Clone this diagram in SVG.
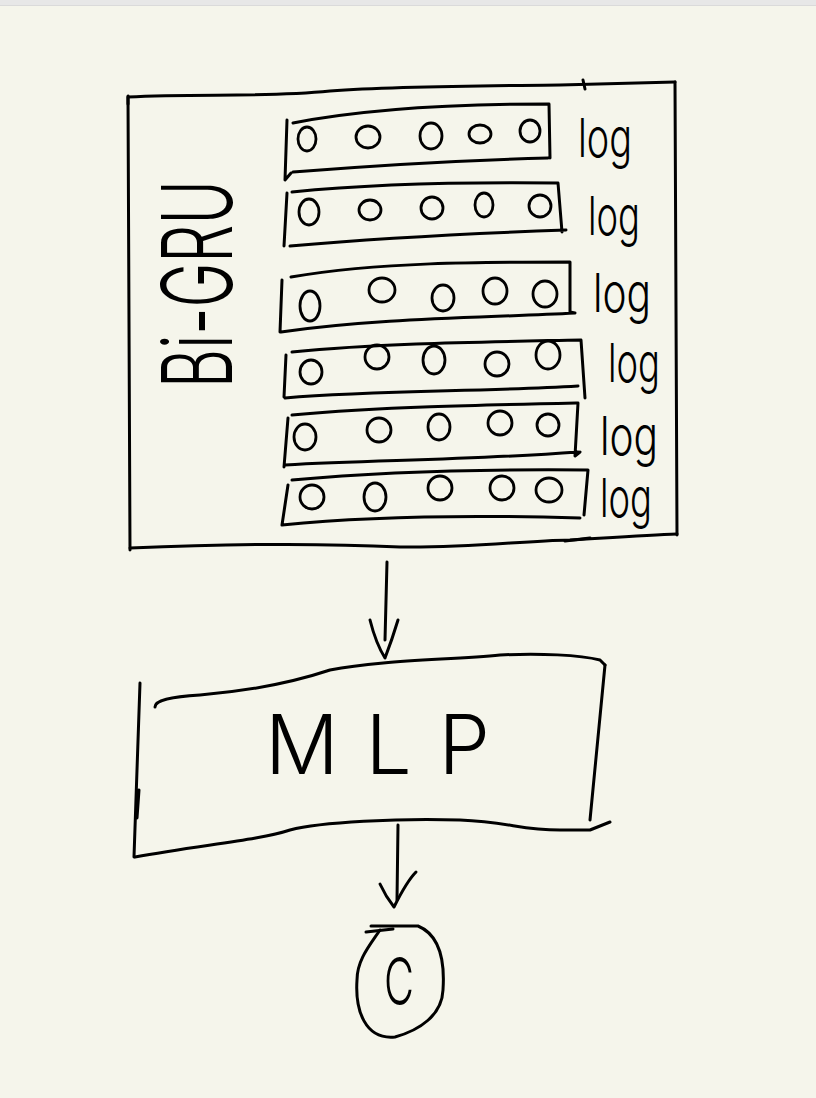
<svg xmlns="http://www.w3.org/2000/svg" width="816" height="1098" viewBox="0 0 816 1098">
<style>
.ink{fill:none;stroke:#000;stroke-width:3;stroke-linecap:round;stroke-linejoin:round}
.dot{fill:none;stroke:#000;stroke-width:2.8}
.log{font-family:"Inter","Liberation Sans",sans-serif;font-weight:300;font-size:54px;fill:#000}
.big{font-family:"Inter","Liberation Sans",sans-serif;font-weight:300;fill:#000}
</style>
<rect x="0" y="0" width="816" height="1098" fill="#f5f5eb"/>
<rect x="0" y="0" width="816" height="5" fill="#e7e7e7"/>
<line x1="0" y1="5.5" x2="816" y2="5.5" stroke="#dadada" stroke-width="1"/>

<g id="bigru">
  <path class="ink" d="M128,104 L128,97 C200,93 260,98 330,91 C400,86 480,86 560,85 C600,84 640,83 675,82"/>
  <path class="ink" d="M583,80 L585,89"/>
  <path class="ink" d="M675,82 L677,535"/>
  <path class="ink" d="M128,96 L130,550"/>
  <path class="ink" d="M130,548 C200,545 300,542 400,547 C470,548 520,541 570,540 C620,537 650,535 677,534"/>
  <path class="ink" d="M565,541 L590,538"/>
  <text class="big" font-size="98" font-weight="200" textLength="208" lengthAdjust="spacingAndGlyphs" transform="translate(232,388) rotate(-90)">Bi-GRU</text>

  <g id="row1">
    <path class="ink" d="M287,120 L285,180 L291,173 M293,123 C360,110 450,104 549,104 L550,158 M293,172 C380,165 470,160 548,158"/>
    <ellipse class="dot" cx="307" cy="139" rx="9" ry="12"/>
    <ellipse class="dot" cx="368" cy="137" rx="12" ry="11"/>
    <ellipse class="dot" cx="431" cy="136" rx="11" ry="13"/>
    <ellipse class="dot" cx="480" cy="134" rx="11" ry="9"/>
    <ellipse class="dot" cx="530" cy="131" rx="10" ry="11"/>
    <text class="log" x="578" y="157" textLength="54" lengthAdjust="spacingAndGlyphs">log</text>
  </g>
  <g id="row2">
    <path class="ink" d="M287,193 L284,246 M292,192 C380,183 470,182 558,183 L562,232 M290,246 C380,238 480,233 566,230"/>
    <ellipse class="dot" cx="309" cy="212" rx="10" ry="13"/>
    <ellipse class="dot" cx="370" cy="210" rx="11" ry="10"/>
    <ellipse class="dot" cx="432" cy="208" rx="11" ry="11"/>
    <ellipse class="dot" cx="484" cy="205" rx="9" ry="12"/>
    <ellipse class="dot" cx="540" cy="206" rx="11" ry="11"/>
    <text class="log" x="588" y="235" textLength="52" lengthAdjust="spacingAndGlyphs">log</text>
  </g>
  <g id="row3">
    <path class="ink" d="M282,280 L280,332 M291,277 C380,262 480,262 570,262 L570,312 L575,313 M281,332 C380,318 480,318 575,313"/>
    <ellipse class="dot" cx="310" cy="306" rx="10" ry="15"/>
    <ellipse class="dot" cx="382" cy="290" rx="13" ry="12"/>
    <ellipse class="dot" cx="443" cy="298" rx="11" ry="13"/>
    <ellipse class="dot" cx="495" cy="291" rx="12" ry="13"/>
    <ellipse class="dot" cx="545" cy="294" rx="12" ry="13"/>
    <text class="log" x="593" y="312" textLength="58" lengthAdjust="spacingAndGlyphs">log</text>
  </g>
  <g id="row4">
    <path class="ink" d="M286,355 L284,397 M292,352 C380,343 480,342 581,340 L585,398 M285,398 C380,390 480,392 578,386"/>
    <ellipse class="dot" cx="311" cy="372" rx="11" ry="12"/>
    <ellipse class="dot" cx="377" cy="357" rx="12" ry="12"/>
    <ellipse class="dot" cx="434" cy="360" rx="11" ry="14"/>
    <ellipse class="dot" cx="497" cy="364" rx="12" ry="12"/>
    <ellipse class="dot" cx="548" cy="355" rx="12" ry="14"/>
    <text class="log" x="608" y="382" textLength="52" lengthAdjust="spacingAndGlyphs">log</text>
  </g>
  <g id="row5">
    <path class="ink" d="M288,418 L284,467 M292,415 C380,407 480,405 578,403 L575,456 L580,452 M285,465 C380,460 470,460 578,452"/>
    <ellipse class="dot" cx="305" cy="437" rx="11" ry="13"/>
    <ellipse class="dot" cx="379" cy="430" rx="12" ry="12"/>
    <ellipse class="dot" cx="439" cy="427" rx="11" ry="13"/>
    <ellipse class="dot" cx="500" cy="423" rx="12" ry="12"/>
    <ellipse class="dot" cx="548" cy="425" rx="11" ry="11"/>
    <text class="log" x="600" y="455" textLength="58" lengthAdjust="spacingAndGlyphs">log</text>
  </g>
  <g id="row6">
    <path class="ink" d="M288,485 L282,525 M292,480 C380,472 480,469 588,470 L584,515 M282,525 C380,515 480,515 580,518"/>
    <ellipse class="dot" cx="312" cy="497" rx="12" ry="12"/>
    <ellipse class="dot" cx="375" cy="497" rx="11" ry="14"/>
    <ellipse class="dot" cx="440" cy="488" rx="12" ry="12"/>
    <ellipse class="dot" cx="502" cy="488" rx="12" ry="12"/>
    <ellipse class="dot" cx="549" cy="490" rx="13" ry="12"/>
    <text class="log" x="600" y="517" textLength="52" lengthAdjust="spacingAndGlyphs">log</text>
  </g>
</g>

<g id="connectors">
  <path class="ink" d="M387,562 L385,640"/>
  <path class="ink" d="M370,620 C375,640 380,650 385,658 C390,645 395,630 398,620"/>
  <path class="ink" d="M398,825 L397,900"/>
  <path class="ink" d="M380,884 C385,895 390,902 394,907 C400,895 408,880 416,872"/>
</g>

<g id="mlp">
  <path class="ink" d="M155,707 C155,700 170,697 200,695 C260,690 300,680 330,670 C380,660 450,660 500,655 C540,653 580,655 600,660 L605,665"/>
  <path class="ink" d="M605,665 L590,820"/>
  <path class="ink" d="M135,857 C200,845 260,840 290,830 C320,822 400,818 460,820 C510,822 520,830 560,830 L590,830 L610,822"/>
  <path class="ink" d="M140,683 L134,857 M139,790 L137,818"/>
  <text class="big" x="265" y="774" font-size="82" font-weight="200" textLength="225" lengthAdjust="spacing">MLP</text>
</g>

<g id="c">
  <path class="ink" d="M371,926 L418,926 C440,935 445,960 443,990 C442,1015 420,1030 395,1037 C365,1040 355,1010 357,980 C357,960 370,945 380,930"/>
  <path class="ink" d="M366,932 L393,929"/>
  <text class="big" x="384" y="1005" font-size="66" font-weight="200" textLength="30" lengthAdjust="spacingAndGlyphs">C</text>
</g>
</svg>
